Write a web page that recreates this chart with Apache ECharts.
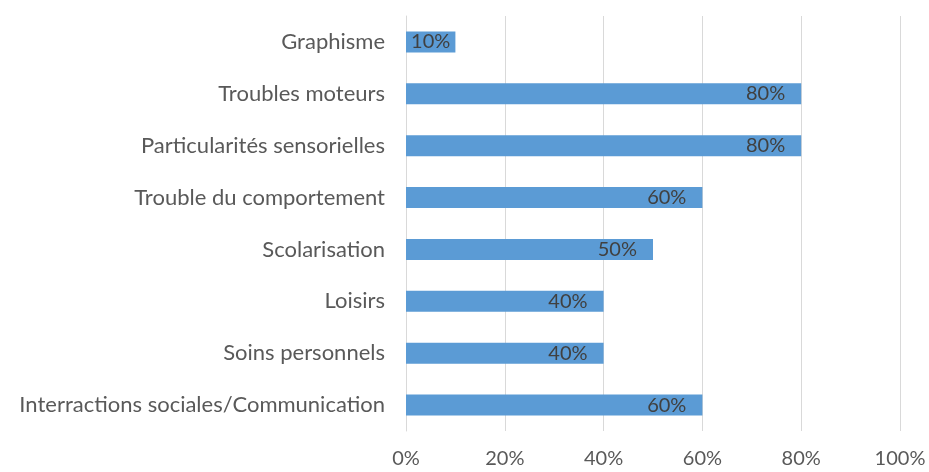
<!DOCTYPE html>
<html>
<head>
<meta charset="utf-8">
<script src="https://cdn.jsdelivr.net/npm/echarts@6/dist/echarts.min.js"></script>
<style>html,body{margin:0;padding:0;background:#fff}#c{width:929px;height:472px}</style>
</head>
<body>
<div id="c"></div>
<script>
const categories = ["Interractions sociales/Communication","Soins personnels","Loisirs","Scolarisation","Trouble du comportement","Particularités sensorielles","Troubles moteurs","Graphisme"];
const values = [60,40,40,50,60,80,80,10];
const xTicks = [0,20,40,60,80,100];

const seriesData = values.map(v => v < 20
  ? {value: v, label: {position: 'inside', offset: [0, 0]}}
  : {value: v});

const chart = echarts.init(document.getElementById('c'), null, {renderer:'canvas'});
chart.setOption({
  animation:false,
  grid:{left:406,right:29,top:16,bottom:41,containLabel:false},
  xAxis:{
    type:'value',min:xTicks[0],max:xTicks[xTicks.length-1],interval:xTicks[1]-xTicks[0],
    axisLine:{show:false},axisTick:{show:false},
    splitLine:{lineStyle:{color:'#d9d9d9',width:1}},
    axisLabel:{formatter:v=>v+'%',color:'#595959',fontSize:20,fontFamily:'Lato',margin:18}
  },
  yAxis:{
    type:'category',data:categories,
    axisLine:{show:true,lineStyle:{color:'#d9d9d9'}},
    axisTick:{show:false},
    axisLabel:{color:'#595959',fontSize:22,fontFamily:'Lato',margin:21}
  },
  series:[{
    type:'bar',data:seriesData,barWidth:21,
    itemStyle:{color:'#5b9bd5'},
    label:{show:true,position:'insideRight',offset:[-11,0],formatter:p=>p.value+'%',color:'#404040',fontSize:20,fontFamily:'Lato'}
  }]
});
</script>
</body>
</html>
